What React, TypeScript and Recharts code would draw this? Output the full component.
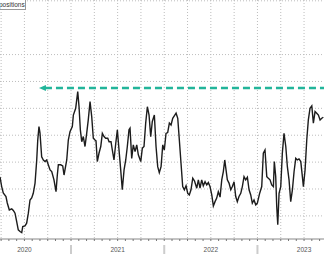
import { LineChart, Line, XAxis, YAxis, CartesianGrid, ReferenceLine } from 'recharts'

// weekly net positions, time as decimal years
const dates = [
  2020.238, 2020.256, 2020.273, 2020.302, 2020.316, 2020.338, 2020.364, 2020.381, 2020.399, 2020.417,
  2020.434, 2020.453, 2020.471, 2020.482, 2020.506, 2020.524, 2020.542, 2020.560, 2020.578, 2020.595,
  2020.614, 2020.632, 2020.643, 2020.656, 2020.667, 2020.685, 2020.703, 2020.721, 2020.739, 2020.756,
  2020.775, 2020.793, 2020.817, 2020.839, 2020.853, 2020.864, 2020.889, 2020.911, 2020.925, 2020.935,
  2020.954, 2020.971, 2020.989, 2021.014, 2021.025, 2021.050, 2021.072, 2021.086, 2021.100, 2021.115,
  2021.132, 2021.150, 2021.168, 2021.185, 2021.204, 2021.222, 2021.239, 2021.257, 2021.268, 2021.282,
  2021.300, 2021.319, 2021.336, 2021.354, 2021.372, 2021.394, 2021.408, 2021.429, 2021.443, 2021.461,
  2021.480, 2021.497, 2021.515, 2021.533, 2021.550, 2021.569, 2021.587, 2021.604, 2021.622, 2021.633,
  2021.651, 2021.668, 2021.687, 2021.705, 2021.722, 2021.748, 2021.765, 2021.783, 2021.801, 2021.819,
  2021.837, 2021.855, 2021.872, 2021.894, 2021.912, 2021.930, 2021.947, 2021.966, 2021.984, 2022.001,
  2022.019, 2022.037, 2022.055, 2022.073, 2022.091, 2022.108, 2022.127, 2022.145, 2022.162, 2022.180,
  2022.198, 2022.216, 2022.234, 2022.252, 2022.269, 2022.287, 2022.306, 2022.325, 2022.349, 2022.366,
  2022.384, 2022.402, 2022.419, 2022.438, 2022.456, 2022.473, 2022.491, 2022.510, 2022.527, 2022.545,
  2022.563, 2022.580, 2022.599, 2022.617, 2022.634, 2022.649, 2022.663, 2022.677, 2022.695, 2022.714,
  2022.731, 2022.749, 2022.767, 2022.784, 2022.802, 2022.821, 2022.838, 2022.856, 2022.874, 2022.892,
  2022.910, 2022.928, 2022.945, 2022.963, 2022.982, 2022.999, 2023.022, 2023.046, 2023.063, 2023.081,
  2023.100, 2023.117, 2023.135, 2023.153, 2023.171, 2023.181, 2023.196, 2023.207, 2023.218, 2023.232,
  2023.250, 2023.267, 2023.285, 2023.304, 2023.321, 2023.339, 2023.357, 2023.375, 2023.393, 2023.411,
  2023.428, 2023.446, 2023.465, 2023.482, 2023.493, 2023.511, 2023.529, 2023.546, 2023.564, 2023.583,
  2023.600, 2023.618, 2023.636, 2023.654, 2023.672, 2023.690, 2023.707,
]

// thousand contracts
const netPositions = [
  14.5, 10.9, 8.5, 7.2, 4.8, 2.2, 2.6, 2.0, 1.0, -2.1,
  -5.2, -5.8, -6.2, -4.0, -3.7, -2.7, 1.0, 5.9, 6.7, 8.4,
  12.2, 20.8, 28.2, 33.2, 30.9, 22.0, 20.8, 20.2, 20.8, 19.0,
  17.1, 16.5, 13.4, 9.0, 15.2, 19.0, 19.0, 18.6, 15.2, 17.1,
  20.8, 28.2, 31.3, 33.2, 37.5, 40.0, 46.2, 40.6, 32.0, 27.6,
  29.5, 25.8, 30.7, 35.7, 42.5, 36.9, 28.9, 28.2, 27.9, 20.2,
  23.3, 25.8, 30.7, 29.5, 28.9, 28.9, 27.6, 27.6, 24.5, 20.8,
  27.0, 32.0, 24.5, 17.1, 9.7, 17.1, 20.8, 25.8, 32.0, 32.6,
  21.4, 26.4, 23.9, 26.4, 22.7, 20.2, 25.2, 25.8, 34.5, 40.6,
  37.5, 29.5, 35.1, 37.5, 25.8, 18.3, 16.1, 18.3, 26.4, 24.5,
  30.7, 31.0, 34.5, 33.8, 36.3, 37.2, 38.2, 36.3, 28.2, 19.6,
  10.9, 9.7, 11.2, 8.4, 7.8, 9.7, 14.0, 13.0, 10.3, 13.4,
  10.3, 13.4, 11.2, 12.7, 11.5, 12.4, 10.9, 7.8, 3.7, 5.3,
  6.6, 9.0, 7.0, 13.4, 16.5, 20.8, 17.1, 13.4, 12.2, 9.7,
  10.9, 12.7, 7.2, 5.3, 7.2, 8.4, 10.9, 14.6, 13.4, 14.4,
  9.7, 7.8, 4.7, 5.9, 4.1, 4.7, 8.2, 10.9, 23.3, 24.5,
  14.6, 14.0, 13.4, 11.5, 10.9, 20.2, 14.6, 3.5, -3.3, 8.4,
  10.9, 23.3, 30.7, 25.8, 18.3, 13.4, 5.3, 9.7, 16.5, 21.4,
  20.8, 21.2, 20.2, 14.6, 10.9, 17.1, 28.2, 35.7, 40.0, 40.9,
  34.5, 38.8, 38.2, 37.5, 35.7, 36.3, 36.7,
]

const yearLabels = ['2020', '2021', '2022', '2023']
const gridLevels = [0, 10, 20, 30, 40, 50, 60, 70, 80]
const prevPeakLevel = 47.6
const arrowFrom = 2020.656

const data = dates.map((t, i) => ({ t, v: netPositions[i] }))

const X_DOMAIN: [number, number] = [2020.238, 2023.714]
const months: number[] = []
const quarters: number[] = []
for (let y = 2020; y <= 2023; y++) {
  for (let m = 0; m < 12; m++) {
    const v = y + m / 12
    if (v < X_DOMAIN[0] || v > X_DOMAIN[1]) continue
    months.push(v)
    if (m % 3 === 0) quarters.push(v)
  }
}

const TEAL = '#22b59a'

function MonthTick(props: any) {
  const { x, y, payload } = props
  const idx = Math.round(payload.value * 12)
  const m = ((idx % 12) + 12) % 12
  const year = Math.floor(idx / 12)
  const label = yearLabels.find(l => Number(l) === year)
  return (
    <g>
      <line x1={x} x2={x} y1={y} y2={y + 2} stroke="#777" strokeWidth={1} />
      {m === 0 && <line x1={x} x2={x} y1={y + 6} y2={y + 15} stroke="#ccc" strokeWidth={2} />}
      {m === 6 && label && (
        <text x={x} y={y + 13} textAnchor="middle" fontSize={6.5} fill="#555" fontFamily="Liberation Sans, Arial, sans-serif">
          {label}
        </text>
      )}
    </g>
  )
}

function DashedArrow(props: any) {
  const { x1, y1, x2, y2 } = props
  if (x1 == null) return null
  const left = Math.min(x1, x2)
  const right = Math.max(x1, x2)
  return (
    <g>
      <line x1={left + 6} x2={right} y1={y1} y2={y2} stroke={TEAL} strokeWidth={2.5} strokeDasharray="7 4" />
      <polygon points={`${left},${y1} ${left + 7},${y1 - 3} ${left + 7},${y1 + 3}`} fill={TEAL} />
    </g>
  )
}

export default function App() {
  return (
    <div style={{ position: 'absolute', left: 0, top: 0, width: 324, height: 259, background: '#fff', overflow: 'hidden' }}>
      <LineChart width={324} height={259} data={data} margin={{ top: 0, right: 0, left: 0, bottom: 0 }}>
        <CartesianGrid
          stroke="#bdbdbd"
          strokeDasharray="1 2"
          horizontalValues={gridLevels}
          verticalValues={quarters}
        />
        <XAxis
          dataKey="t"
          type="number"
          domain={X_DOMAIN}
          ticks={months}
          interval={0}
          height={20}
          tickLine={false}
          tickSize={0}
          tickMargin={0}
          axisLine={{ stroke: '#888' }}
          tick={(p: any) => <MonthTick {...p} />}
        />
        <YAxis hide width={0} domain={[-8.6, 80.3]} ticks={gridLevels} />
        <ReferenceLine
          segment={[{ x: arrowFrom, y: prevPeakLevel }, { x: X_DOMAIN[1], y: prevPeakLevel }]}
          shape={(p: any) => <DashedArrow {...p} />}
          ifOverflow="extendDomain"
        />
        <Line type="linear" dataKey="v" stroke="#1c1c1c" strokeWidth={1.4} dot={false} isAnimationActive={false} />
      </LineChart>
      <div
        style={{
          position: 'absolute', left: -2, top: -3, width: 28, height: 13,
          border: '1px solid #999', background: '#fff', fontSize: 6.5, color: '#333',
          fontFamily: 'Liberation Sans, Arial, sans-serif', lineHeight: '13px', textAlign: 'right',
          paddingRight: 1, boxSizing: 'border-box', whiteSpace: 'nowrap', overflow: 'hidden',
        }}
      >
        positions
      </div>
    </div>
  )
}
